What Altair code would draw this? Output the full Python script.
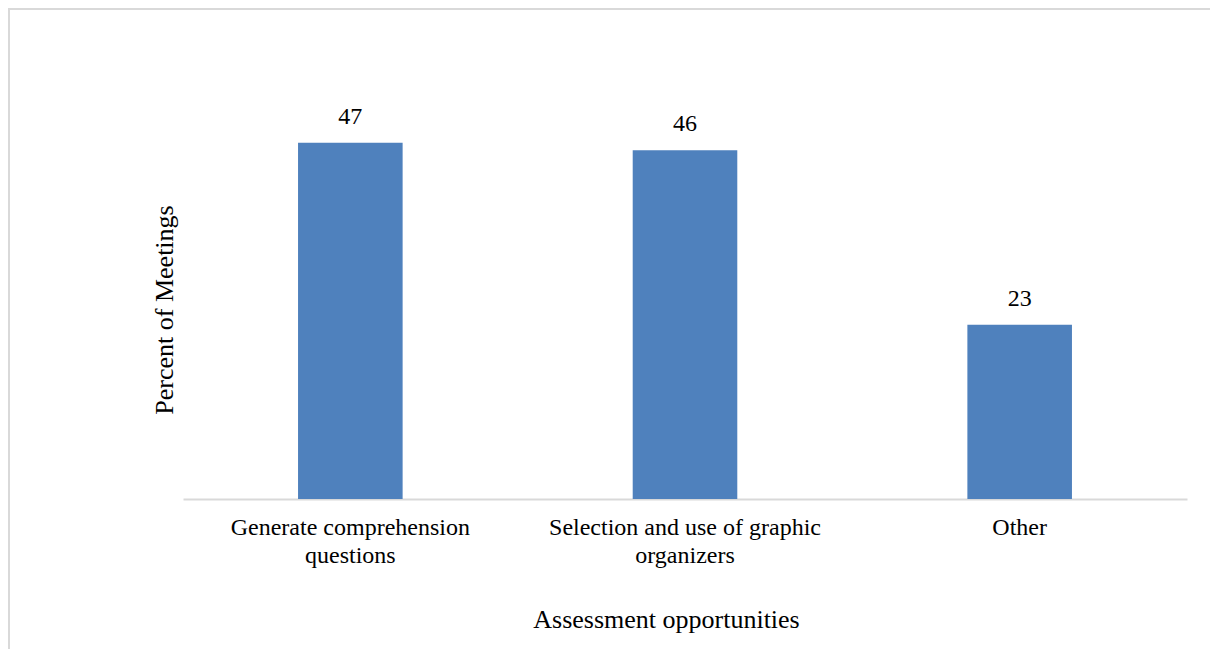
import altair as alt
import pandas as pd

# Share of meetings in which each assessment opportunity was observed
categories = [
    "Generate comprehension\nquestions",
    "Selection and use of graphic\norganizers",
    "Other",
]
percents = [47, 46, 23]

df = pd.DataFrame({"category": categories, "percent": percents})

FONT = "Liberation Serif"
BAR_COLOR = "#4f81bd"
GRID_GRAY = "#d9d9d9"

x_enc = alt.X(
    "category:N",
    sort=categories,
    scale=alt.Scale(paddingInner=0.6875, paddingOuter=0.34375),
    axis=alt.Axis(
        title="Assessment opportunities",
        titleFont=FONT,
        titleFontSize=26,
        titleFontWeight="normal",
        titleColor="#000000",
        titleX=483,
        titleY=120,
        titleAlign="center",
        titleBaseline="middle",
        labelExpr="split(datum.label, '\\n')",
        labelFont=FONT,
        labelFontSize=24,
        labelColor="#000000",
        labelAngle=0,
        labelLimit=0,
        labelLineHeight=28,
        labelPadding=16,
        labelBaseline="top",
        ticks=False,
        domainColor=GRID_GRAY,
        domainWidth=2,
    ),
)

y_enc = alt.Y(
    "percent:Q",
    scale=alt.Scale(domain=[0, 50], nice=False),
    axis=alt.Axis(
        title="Percent of Meetings",
        titleFont=FONT,
        titleFontSize=26,
        titleFontWeight="normal",
        titleColor="#000000",
        titlePadding=6,
        labels=False,
        ticks=False,
        domain=False,
        grid=False,
    ),
)

bars = alt.Chart(df).mark_bar(color=BAR_COLOR).encode(x=x_enc, y=y_enc)

values = alt.Chart(df).mark_text(
    font=FONT, fontSize=24, color="#000000", baseline="alphabetic", dy=-19
).encode(x=alt.X("category:N", sort=categories), y="percent:Q", text="percent:Q")

# light outer frame around the figure
frame = alt.Chart(df).mark_rect(
    fill=None, stroke=GRID_GRAY, strokeWidth=2
).encode(
    x=alt.value(-174),
    x2=alt.value(1100),
    y=alt.value(-111),
    y2=alt.value(700),
)

chart = (
    alt.layer(frame, bars, values)
    .properties(
        width=1004,
        height=379,
        autosize=alt.AutoSizeParams(type="none"),
        padding={"left": 183, "top": 120, "right": 23, "bottom": 150},
        background="#ffffff",
    )
    .configure_view(stroke=None)
)

chart.save("out.html", embed_options={"renderer": "svg", "actions": False})
